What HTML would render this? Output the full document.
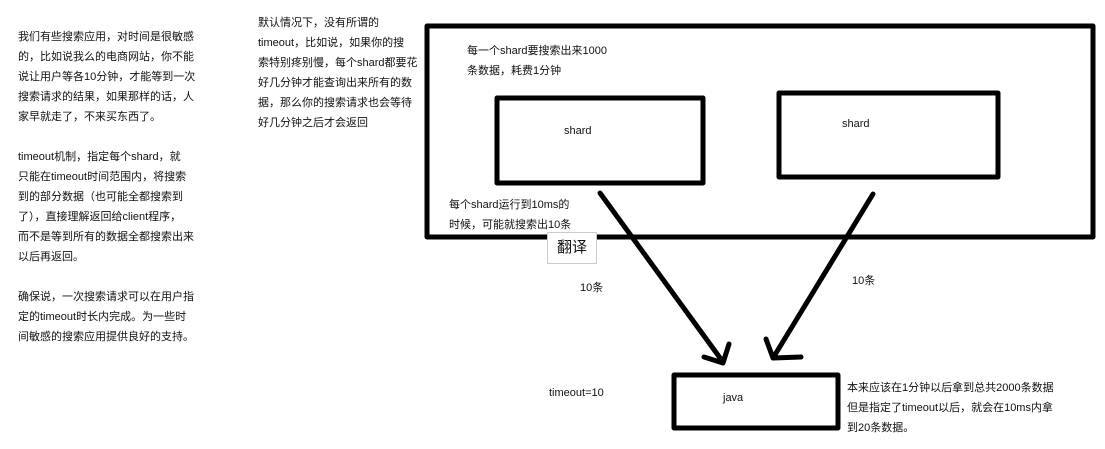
<!DOCTYPE html>
<html><head><meta charset="utf-8"><style>
body{margin:0;width:1105px;height:449px;background:#fff;position:relative;overflow:hidden;font-family:"Liberation Sans","Noto Sans CJK SC",sans-serif;font-size:11px;color:#111}
.t{position:absolute;line-height:20px;white-space:nowrap}
</style></head><body>
<svg width="1105" height="449" style="position:absolute;left:0;top:0" fill="none" stroke="#000" stroke-linecap="round" stroke-linejoin="round">
<rect x="427" y="26" width="666" height="211" stroke-width="5"/>
<rect x="497" y="98" width="206" height="85" stroke-width="5"/>
<rect x="779" y="93" width="219" height="84" stroke-width="5"/>
<rect x="674" y="375" width="164" height="53" stroke-width="5"/>
<path d="M600 193 L723 362 M704 357 L723 363 L729 344" stroke-width="5"/>
<path d="M873 194 L773 358 M766 339 L773 358 L801 357" stroke-width="5"/>
</svg>
<div class="t" style="left:18px;top:27px">我们有些搜索应用，对时间是很敏感<br>的，比如说我么的电商网站，你不能<br>说让用户等各10分钟，才能等到一次<br>搜索请求的结果，如果那样的话，人<br>家早就走了，不来买东西了。</div>
<div class="t" style="left:18px;top:147px">timeout机制，指定每个shard，就<br>只能在timeout时间范围内，将搜索<br>到的部分数据（也可能全都搜索到<br>了），直接理解返回给client程序，<br>而不是等到所有的数据全都搜索出来<br>以后再返回。</div>
<div class="t" style="left:18px;top:287px">确保说，一次搜索请求可以在用户指<br>定的timeout时长内完成。为一些时<br>间敏感的搜索应用提供良好的支持。</div>
<div class="t" style="left:258px;top:13px">默认情况下，没有所谓的<br>timeout，比如说，如果你的搜<br>索特别疼别慢，每个shard都要花<br>好几分钟才能查询出来所有的数<br>据，那么你的搜索请求也会等待<br>好几分钟之后才会返回</div>
<div class="t" style="left:467px;top:41px">每一个shard要搜索出来1000<br>条数据，耗费1分钟</div>
<div class="t" style="left:564px;top:121px">shard</div>
<div class="t" style="left:842px;top:114px">shard</div>
<div class="t" style="left:449px;top:195px">每个shard运行到10ms的<br>时候，可能就搜索出10条</div>
<div style="position:absolute;left:547px;top:232px;width:48px;height:30px;border:1px solid #ccc;background:#fff;font-size:15px;line-height:30px;text-align:center">翻译</div>
<div class="t" style="left:580px;top:278px">10条</div>
<div class="t" style="left:852px;top:271px">10条</div>
<div class="t" style="left:549px;top:383px">timeout=10</div>
<div class="t" style="left:723px;top:388px">java</div>
<div class="t" style="left:847px;top:378px">本来应该在1分钟以后拿到总共2000条数据<br>但是指定了timeout以后，就会在10ms内拿<br>到20条数据。</div>
</body></html>
